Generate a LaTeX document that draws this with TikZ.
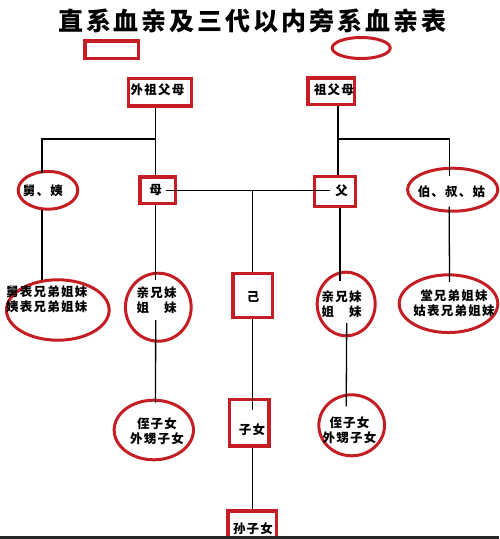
\documentclass[tikz,border=0pt]{standalone}
\usepackage{fontspec}
\setmainfont{Noto Sans CJK SC}
\newfontfamily\cjk{Noto Sans CJK SC}[LetterSpace=10]
\newfontfamily\cjktitle{Noto Sans CJK SC}[LetterSpace=12]
\usetikzlibrary{shapes.geometric,calc}
\definecolor{dred}{RGB}{196,30,36}
% place text with an offset (dx right, dy up) from the node centre, size-free
\newcommand{\tx}[3]{\makebox[0pt]{\hspace*{#1}\hspace*{#1}\raisebox{\dimexpr #2-4.75pt\relax}[0pt][0pt]{#3}}}
\newcommand{\twol}[2]{\begin{tabular}{@{}c@{}}#1\\#2\end{tabular}}
\tikzset{
  redbox/.style={draw=dred, line width=3.5pt, rectangle, inner sep=0pt, font=\cjk\bfseries\fontsize{12.5}{15}\selectfont},
  redell/.style={draw=dred, line width=3pt, ellipse, inner sep=0pt, font=\cjk\bfseries\fontsize{12.5}{15}\selectfont},
  link/.style={draw=black, line width=1.3pt},
  titletext/.style={inner sep=0pt, font=\cjktitle\bfseries\fontsize{25}{28}\selectfont}
}
\begin{document}
\begin{tikzpicture}[x=1pt,y=-1pt]
\useasboundingbox (0,0) rectangle (499,539);
\fill[white] (0,0) rectangle (499,539);

\node[titletext] (title) at (252.5,21) {直系血亲及三代以内旁系血亲表};

\node[redbox, minimum width=53.2, minimum height=17.2] (er) at (111.7,49.7) {};
\node[redell, minimum width=58, minimum height=21] (ee) at (361.2,48) {};

\node[redbox, minimum width=63, minimum height=27.2] (wzfm) at (160,92.3) {\tx{-2.5pt}{2.3pt}{外祖父母}};
\node[redbox, minimum width=46.5, minimum height=26.5] (zfm) at (331,91) {\tx{3pt}{1pt}{祖父母}};

\node[redell, minimum width=59.6, minimum height=37.7] (jy) at (48,190.3) {\tx{-5pt}{-0.7pt}{舅、姨}};
\node[redbox, minimum width=35.5, minimum height=26.5] (mu) at (157.8,190) {\tx{-2.3pt}{0pt}{母}};
\node[redbox, minimum width=41, minimum height=30] (fu) at (335,191.7) {\tx{6.5pt}{0.7pt}{父}};
\node[redell, minimum width=90.3, minimum height=43] (bsg) at (452.7,189.7) {\tx{-1.2pt}{-2.3pt}{伯、叔、姑}};

\node[redell, minimum width=102.7, minimum height=60.4] (jbx) at (57.8,310) {\tx{-11.1pt}{11pt}{\twol{舅表兄弟姐妹}{姨表兄弟姐妹}}};
\node[redell, minimum width=65.7, minimum height=68] (qxmL) at (158.3,307.2) {\tx{-1.6pt}{7.2pt}{\twol{亲兄妹}{姐　妹}}};
\node[redbox, minimum width=39.5, minimum height=44] (ji) at (252.5,295.5) {\tx{0.5pt}{-1.5pt}{己}};
\node[redell, minimum width=58, minimum height=63.6] (qxmR) at (346.2,304) {\tx{-4.5pt}{0pt}{\twol{亲兄妹}{姐　妹}}};
\node[redell, minimum width=98.6, minimum height=57.7] (tx) at (448.5,303.7) {\tx{5.5pt}{0.7pt}{\twol{堂兄弟姐妹}{姑表兄弟姐妹}}};

\node[redell, minimum width=79.3, minimum height=59.6] (zznL) at (153.8,430) {\tx{3.2pt}{-1pt}{\twol{侄子女}{外甥子女}}};
\node[redbox, minimum width=39.5, minimum height=46.5] (zn) at (249.2,422.7) {\tx{2.8pt}{-7.3pt}{子女}};
\node[redell, minimum width=65.7, minimum height=61] (zznR) at (351.7,425.3) {\tx{-2.2pt}{-5.2pt}{\twol{侄子女}{外甥子女}}};
\node[redbox, minimum width=48.8, minimum height=27.5] (szn) at (252.2,524.7) {\tx{0.8pt}{-3.8pt}{孙子女}};

\coordinate (jl) at (155.5,139);
\coordinate (jr) at (338,139);
\coordinate (jm) at (252.5,190.5);

% mother's side
\draw[link] (wzfm.south -| jl) -- (jl) -| ($(jy.north)+(-6,3)$);
\draw[link] (jl) -- (jl |- mu.north);
\draw[link] ($(jy.south)+(-6,-1)$) -- ($(jy.south |- jbx.north)+(-6,2)$);
\draw[link] (jl |- mu.south) -- ($(jl |- qxmL.north)+(0,8)$);
\draw[link] ($(qxmL.center)+(-2.6,13)$) -- ($(zznL.north)+(1.7,4)$);

% parents and self
\draw[link] ($(mu.center)+(8,0.5)$) -- ($(fu.center)+(-5,-1.2)$);
\draw[link] (jm) -- (jm |- ji.north);
\draw[link] (ji.south) -- ($(ji.south |- zn.north)+(0,12)$);
\draw[link] (ji.south |- zn.south) -- (ji.south |- szn.north);

% father's side
\draw[link] (zfm.south -| jr) -- (jr) -| ($(bsg.north)+(-3.5,9)$);
\draw[link] (jr) -- (jr |- fu.north);
\draw[link] ($(fu.south)+(5,0)$) -- ($(fu.south |- qxmR.north)+(5,10)$);
\draw[link] ($(qxmR.center)+(0.5,19)$) -- ($(zznR.north)+(-5.5,13)$);
\draw[link] ($(bsg.south)+(-3.5,-6)$) -- ($(tx.north)+(1,8.5)$);

% scan edge at the bottom
\draw[line width=3pt, black!85] (0,537.7) -- (499,537.7);
\end{tikzpicture}
\end{document}
